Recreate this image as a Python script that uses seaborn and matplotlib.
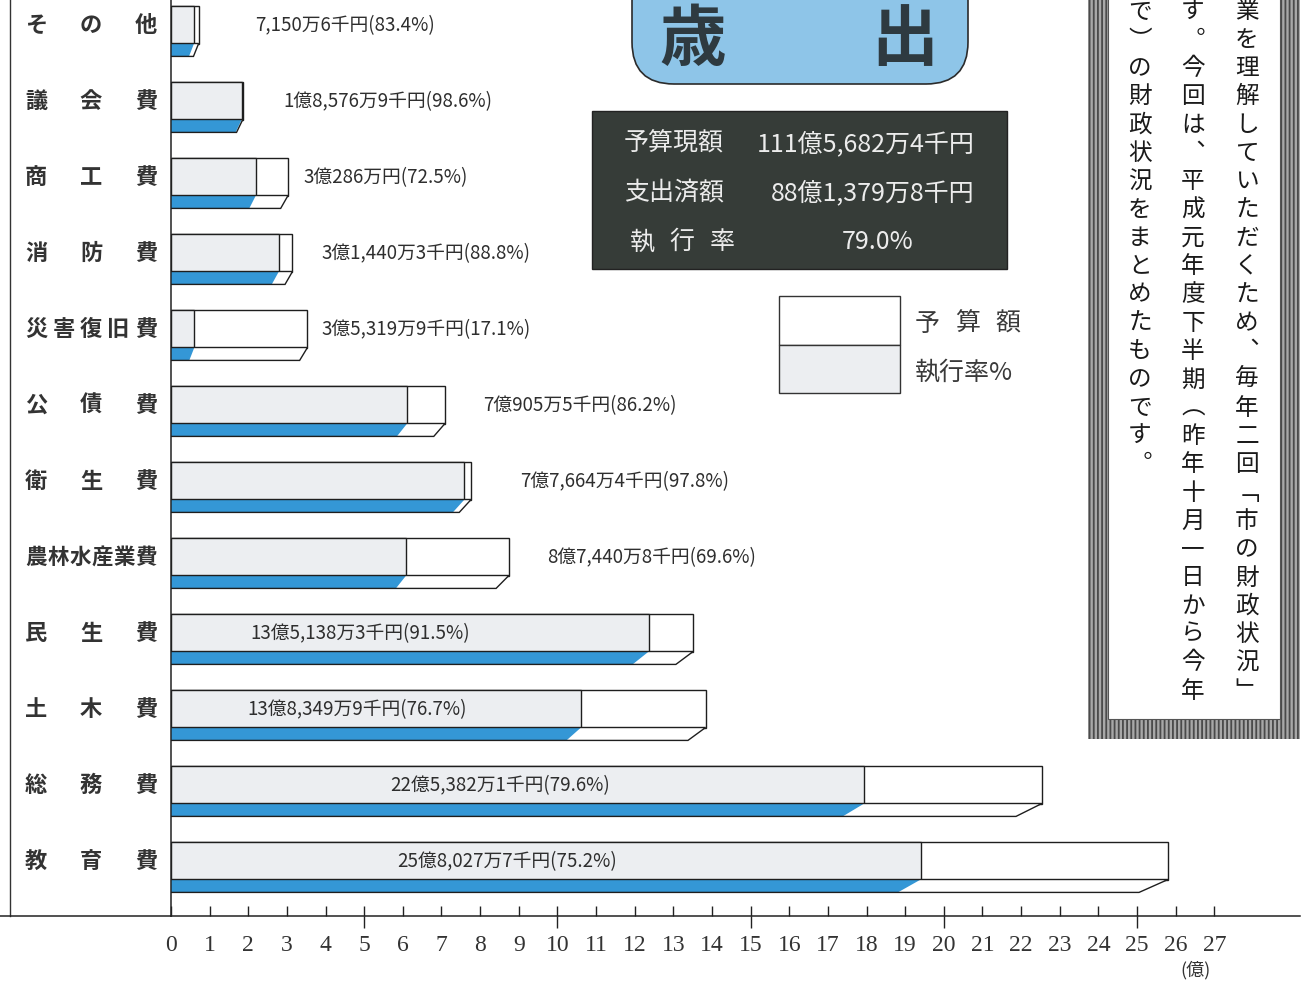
import numpy as np
import pandas as pd
import matplotlib
matplotlib.use('Agg')
import matplotlib.pyplot as plt
import seaborn as sns
from matplotlib.patches import Polygon, Rectangle, FancyBboxPatch
from matplotlib.lines import Line2D
from matplotlib.transforms import blended_transform_factory

# ---------------- data ----------------
categories = ['その他', '議会費', '商工費', '消防費', '災害復旧費', '公債費',
              '衛生費', '農林水産業費', '民生費', '土木費', '総務費', '教育費']
budget_sen = [71506, 185769, 302860, 314403, 353199, 709055,
              776644, 874408, 1351383, 1383499, 2253821, 2580277]   # 千円
exec_rate = [83.4, 98.6, 72.5, 88.8, 17.1, 86.2,
             97.8, 69.6, 91.5, 76.7, 79.6, 75.2]                   # %
x_ticks = list(range(0, 28))
axis_unit = '(億)'
summary_labels = ['予算現額', '支出済額', '執行率']
summary_values = ['111億5,682万4千円', '88億1,379万8千円', '79.0%']
legend_labels = ['予算額', '執行率%']
title_chars = ['歳', '出']
note_columns = ['業を理解していただくため、毎年二回「市の財政状況」',
                'す。今回は、平成元年度下半期（昨年十月一日から今年',
                'で）の財政状況をまとめたものです。']

# ---------------- layout (pixels) ----------------
W, H = 1313, 987
X0, XEND, YAX = 171, 1300, 917
UNIT = 38.64
ROW0, PITCH = 25.5, 76.0
label_x_px = [255, 283, 303, 321, 321, 483, 520, 547, 250, 247, 390, 397]

plt.rcParams['font.family'] = ['Noto Sans CJK JP', 'DejaVu Sans']

def fmt_yen(v):
    oku, rest = divmod(v, 100000)
    man, sen = divmod(rest, 10)
    s = ''
    if oku:
        s += f'{oku}億'
    if man:
        s += f'{man:,}万'
    if sen:
        s += f'{sen}千'
    return s + '円'

budget_oku = [v / 100000 for v in budget_sen]
exec_oku = [b * r / 100 for b, r in zip(budget_oku, exec_rate)]
df = pd.DataFrame({'category': categories, 'budget': budget_oku, 'executed': exec_oku})

fig = plt.figure(figsize=(W / 100, H / 100), dpi=100)
fig.patch.set_facecolor('white')
ax = fig.add_axes([X0 / W, (H - YAX) / H, (XEND - X0) / W, YAX / H])
ov = fig.add_axes([0, 0, 1, 1], zorder=5)
ov.set_xlim(0, W)
ov.set_ylim(H, 0)
ov.axis('off')

EDGE = '#1e1e1e'
GREY = '#eceef1'
BLUE = '#3497d6'

sns.barplot(data=df, x='budget', y='category', order=categories, orient='h',
            color='white', saturation=1, edgecolor=EDGE, linewidth=1.0,
            width=0.5, errorbar=None, ax=ax)
sns.barplot(data=df, x='executed', y='category', order=categories, orient='h',
            color=GREY, saturation=1, edgecolor=EDGE, linewidth=1.0,
            width=0.5, errorbar=None, ax=ax)

def skew(v):
    return 0.116 + 0.0246 * v

for i, (b, e) in enumerate(zip(budget_oku, exec_oku)):
    top, bot = i + 0.25, i + 0.42
    ax.add_patch(Polygon([(0, top), (b, top), (b - skew(b), bot), (0, bot)],
                         closed=True, facecolor='white', edgecolor='none', zorder=3))
    ax.add_patch(Polygon([(0, top), (e, top), (max(e - skew(e), 0), bot), (0, bot)],
                         closed=True, facecolor=BLUE, edgecolor='none', zorder=3))
    ax.add_patch(Polygon([(0, top), (b, top), (b - skew(b), bot), (0, bot)],
                         closed=True, facecolor='none', edgecolor=EDGE, lw=1.0, zorder=4))
    lab = f'{fmt_yen(budget_sen[i])}({exec_rate[i]}%)'
    ax.text((label_x_px[i] - X0) / UNIT, i, lab, ha='left', va='center',
            fontsize=13.5, color='#2e2e2e', zorder=6)

ax.set_xlim(0, (XEND - X0) / UNIT)
ax.set_ylim((YAX - ROW0) / PITCH, -ROW0 / PITCH)
ax.set_yticks([])
ax.set_ylabel('')
ax.set_xlabel('')
for s in ['top', 'right']:
    ax.spines[s].set_visible(False)
for s in ['left', 'bottom']:
    ax.spines[s].set_color('#222222')
    ax.spines[s].set_linewidth(1.1)

ax.set_xticks(x_ticks)
ax.set_xticklabels([str(t) for t in x_ticks])
ax.set_xticks([5, 10, 15, 20, 25], minor=True)
ax.xaxis.remove_overlapping_locs = False
ax.tick_params(axis='x', which='major', direction='in', length=7.2, width=1.0,
               color='#222222', pad=13, labelsize=17, labelcolor='#333333')
ax.tick_params(axis='x', which='minor', direction='out', length=8.6, width=1.0,
               color='#222222')
for lbl in ax.get_xticklabels():
    lbl.set_fontfamily('Liberation Serif')
ax.patch.set_alpha(0)

# category names, characters spread across the label column
bt = blended_transform_factory(ov.transData, ax.transData)
for i, name in enumerate(categories):
    xs = np.linspace(36, 146, len(name))
    fs = 15.5 if len(name) >= 6 else 16
    for x, ch in zip(xs, name):
        ax.text(x, i, ch, transform=bt, ha='center', va='center', fontsize=fs,
                fontweight='bold', color='#333333')

ov.text(1195, 970, axis_unit, ha='center', va='center', fontsize=13, color='#333333')

# page lines
ov.add_line(Line2D([10, 10], [0, YAX], color='#333333', lw=1.0))
ov.add_line(Line2D([0, X0], [YAX, YAX], color='#222222', lw=1.1))

# title box
ov.add_patch(FancyBboxPatch((632, -40), 336, 125,
                            boxstyle='round,pad=0,rounding_size=42',
                            facecolor='#8ec5e8', edgecolor='#2b2b2b', lw=1.2))
ov.text(693, 40, title_chars[0], ha='center', va='center', fontsize=48,
        fontweight='bold', color='#2e3a40')
ov.text(905, 40, title_chars[1], ha='center', va='center', fontsize=48,
        fontweight='bold', color='#2e3a40')

# summary box
ov.add_patch(Rectangle((592, 112), 415, 158, facecolor='#363c38', edgecolor='#222222', lw=1))
rows_y = [144, 193, 242]
for k, (lab, val) in enumerate(zip(summary_labels, summary_values)):
    if len(lab) == 4:
        ov.text(624, rows_y[k], lab, ha='left', va='center', fontsize=18, color='#ececec')
    else:
        for x, ch in zip(np.linspace(642, 722, len(lab)), lab):
            ov.text(x, rows_y[k], ch, ha='center', va='center', fontsize=18, color='#ececec')
    if k < 2:
        ov.text(975, rows_y[k], val, ha='right', va='center', fontsize=18, color='#ececec')
    else:
        ov.text(878, rows_y[k], val, ha='center', va='center', fontsize=18, color='#ececec')

# legend
ov.add_patch(Rectangle((779, 297), 121, 49, facecolor='white', edgecolor='#333333', lw=1))
ov.add_patch(Rectangle((779, 346), 121, 48, facecolor=GREY, edgecolor='#333333', lw=1))
for x, ch in zip(np.linspace(927, 1008, len(legend_labels[0])), legend_labels[0]):
    ov.text(x, 324, ch, ha='center', va='center', fontsize=18, color='#3a3a3a')
ov.text(915, 373, legend_labels[1], ha='left', va='center', fontsize=18, color='#3a3a3a')

# decorative note box with vertical text
plt.rcParams['hatch.linewidth'] = 1.3
ov.add_patch(Rectangle((1088, -5), 212, 745, facecolor='#a8a8a8', edgecolor='#4a4a4a',
                       hatch='||||', lw=0))
ov.add_patch(Rectangle((1108, -5), 172, 725, facecolor='white', edgecolor='#555555', lw=0.8))
VERT = {'、': '\ufe11', '。': '\ufe12', '「': '\ufe41', '」': '\ufe42',
        '（': '\ufe35', '）': '\ufe36'}
col_x = [1247, 1193, 1140]
for cx, text in zip(col_x, note_columns):
    for k, ch in enumerate(text):
        ov.text(cx, 12 + 28.3 * k, VERT.get(ch, ch), ha='center', va='center',
                fontsize=17, color='#1a1a1a')

fig.savefig('out.png', dpi=100, facecolor='white')
